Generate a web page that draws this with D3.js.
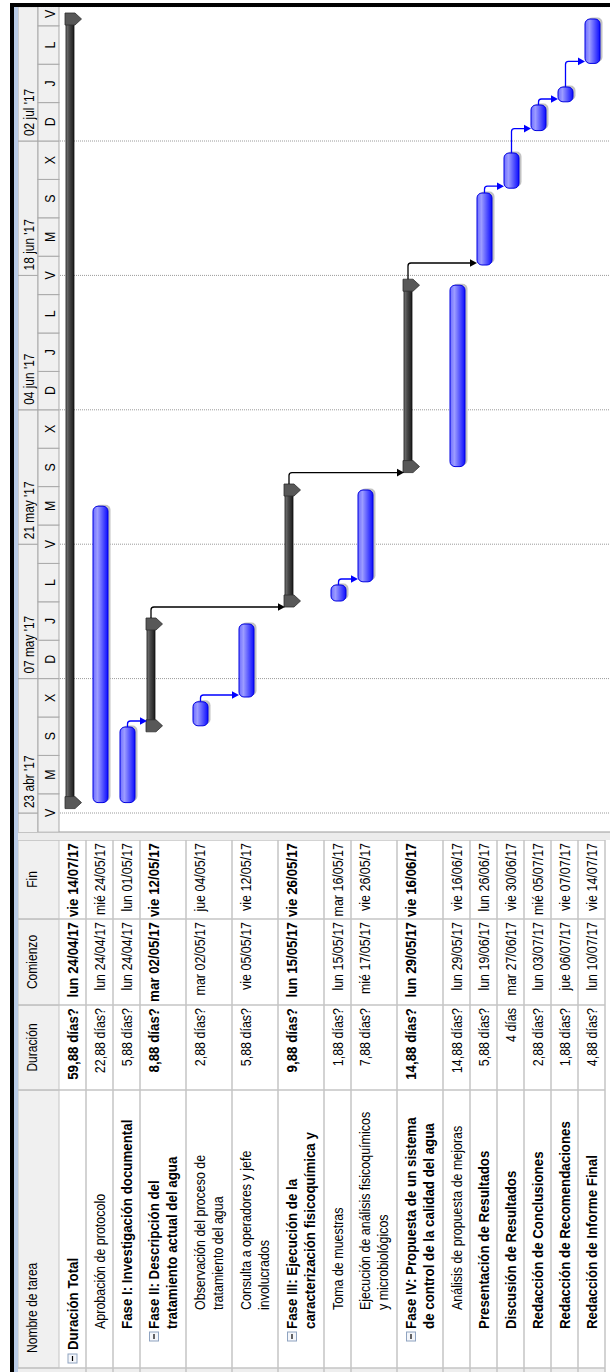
<!DOCTYPE html>
<html>
<head>
<meta charset="utf-8">
<script src="https://cdn.jsdelivr.net/npm/d3@7"></script>
<style>
  body { margin: 0; background: #fff; }
  svg { display: block; }
  text { font-family: "Liberation Sans", Arial, sans-serif; }
</style>
</head>
<body>
<div id="chart"></div>
<script>
// Task table (MS Project view)
const taskNames = [
  ["Duración Total"],
  ["Aprobación de protocolo"],
  ["Fase I: Investigación documental"],
  ["Fase II: Descripción del", "tratamiento actual del agua"],
  ["Observación del proceso de", "tratamiento del agua"],
  ["Consulta a operadores y jefe", "involucrados"],
  ["Fase III: Ejecución de la", "caracterización fisicoquímica y"],
  ["Toma de muestras"],
  ["Ejecución de análisis fisicoquímicos", "y microbiológicos"],
  ["Fase IV: Propuesta de un sistema", "de control de la calidad del agua"],
  ["Análisis de propuesta de mejoras"],
  ["Presentación de Resultados"],
  ["Discusión de Resultados"],
  ["Redacción de Conclusiones"],
  ["Redacción de Recomendaciones"],
  ["Redacción de Informe Final"]
];
const taskLevels = [1, 2, 2, 2, 3, 3, 2, 3, 3, 2, 3, 2, 2, 2, 2, 2];
const isSummary = [true, false, false, true, false, false, true, false, false, true, false, false, false, false, false, false];
const nameBold = [true, false, true, true, false, false, true, false, false, true, false, true, true, true, true, true];
const durations = ["59,88 días?", "22,88 días?", "5,88 días?", "8,88 días?", "2,88 días?", "5,88 días?", "9,88 días?",
  "1,88 días?", "7,88 días?", "14,88 días?", "14,88 días?", "5,88 días?", "4 días", "2,88 días?", "1,88 días?", "4,88 días?"];
const startLabels = ["lun 24/04/17", "lun 24/04/17", "lun 24/04/17", "mar 02/05/17", "mar 02/05/17", "vie 05/05/17",
  "lun 15/05/17", "lun 15/05/17", "mié 17/05/17", "lun 29/05/17", "lun 29/05/17", "lun 19/06/17", "mar 27/06/17",
  "lun 03/07/17", "jue 06/07/17", "lun 10/07/17"];
const finishLabels = ["vie 14/07/17", "mié 24/05/17", "lun 01/05/17", "vie 12/05/17", "jue 04/05/17", "vie 12/05/17",
  "vie 26/05/17", "mar 16/05/17", "vie 26/05/17", "vie 16/06/17", "vie 16/06/17", "lun 26/06/17", "vie 30/06/17",
  "mié 05/07/17", "vie 07/07/17", "vie 14/07/17"];

// Bar extents as drawn
const barStarts = ["2017-04-24 02:00", "2017-04-24 02:00", "2017-04-24 02:00", "2017-05-02 02:00", "2017-05-02 02:00",
  "2017-05-05 02:00", "2017-05-15 02:00", "2017-05-15 02:00", "2017-05-17 02:00", "2017-05-29 02:00", "2017-05-29 02:00",
  "2017-06-19 02:00", "2017-06-27 02:00", "2017-07-03 02:00", "2017-07-06 02:00", "2017-07-10 02:00"];
const barEnds = ["2017-07-14 17:00", "2017-05-24 23:00", "2017-05-01 23:00", "2017-05-12 16:30", "2017-05-04 14:00",
  "2017-05-12 16:30", "2017-05-26 15:30", "2017-05-16 18:00", "2017-05-26 15:30", "2017-06-16 23:30", "2017-06-16 23:30",
  "2017-06-26 14:00", "2017-06-30 18:00", "2017-07-05 18:00", "2017-07-07 15:00", "2017-07-14 17:00"];

// Finish-to-start links [predecessor, successor]
const links = [[2, 3], [4, 5], [3, 6], [7, 8], [6, 9], [9, 11], [11, 12], [12, 13], [13, 14], [14, 15]];

// Timescale
const scaleStart = "2017-04-23", scaleEnd = "2017-07-16";
const majorFrom = "2017-04-09", minorFrom = "2017-04-21";
const dayLetters = ["D", "L", "M", "X", "J", "V", "S"];
const shortMonths = ["ene", "feb", "mar", "abr", "may", "jun", "jul", "ago", "sep", "oct", "nov", "dic"];

// Layout is built in the original landscape orientation, then turned -90deg
const W = 1372, H = 610;
const ganttX0 = 540, ganttX1 = 1365;
const parseT = d3.timeParse("%Y-%m-%d %H:%M");
const parseD = d3.timeParse("%Y-%m-%d");

const svg = d3.select("#chart").append("svg")
  .attr("width", H).attr("height", W);
const g = svg.append("g").attr("transform", `translate(0,${W}) rotate(-90)`);

const defs = svg.append("defs");
const tg = defs.append("linearGradient").attr("id", "taskGrad").attr("x1", 0).attr("y1", 0).attr("x2", 0).attr("y2", 1);
tg.append("stop").attr("offset", 0).attr("stop-color", "#6e6eff");
tg.append("stop").attr("offset", 0.3).attr("stop-color", "#9c9cff");
tg.append("stop").attr("offset", 1).attr("stop-color", "#0c0cff");
const sg = defs.append("linearGradient").attr("id", "sumGrad").attr("x1", 0).attr("y1", 0).attr("x2", 0).attr("y2", 1);
sg.append("stop").attr("offset", 0).attr("stop-color", "#7a7a7a");
sg.append("stop").attr("offset", 0.4).attr("stop-color", "#4a4a4a");
sg.append("stop").attr("offset", 1).attr("stop-color", "#1c1c1c");
defs.append("clipPath").attr("id", "ganttClip").append("rect")
  .attr("x", ganttX0).attr("y", 0).attr("width", ganttX1 - ganttX0).attr("height", H);

function txt(parent, x, y, s, o = {}) {
  const size = o.size || 14.5, sx = o.sx || 0.86;
  return parent.append("text")
    .attr("transform", `translate(${x},${y}) scale(${sx},1)`)
    .attr("text-anchor", o.anchor || "start")
    .attr("font-size", size)
    .attr("font-weight", o.bold ? "bold" : "normal")
    .attr("fill", "#000")
    .text(s);
}

g.append("rect").attr("width", W).attr("height", H).attr("fill", "#fff");

// rows
const rowH = taskNames.map(n => n.length === 1 ? 27 : 46);
const rowTop = [];
let acc = 59;
rowH.forEach(h => { rowTop.push(acc); acc += h; });
const bodyBottom = acc;

// ---------- table ----------
const cols = [
  { x0: 4, x1: 282, title: "Nombre de tarea" },
  { x0: 282, x1: 367, title: "Duración" },
  { x0: 367, x1: 453, title: "Comienzo" },
  { x0: 453, x1: 532, title: "Fin" }
];
const lineCol = "#c4c4c4";

g.append("rect").attr("x", 0).attr("y", 18).attr("width", 4).attr("height", bodyBottom - 18).attr("fill", "#eeeeee");

g.selectAll(".hcell").data(cols).join("rect")
  .attr("x", d => d.x0).attr("y", 18).attr("width", d => d.x1 - d.x0).attr("height", 41)
  .attr("fill", "#f0f0f0").attr("stroke", lineCol);
cols.forEach((c, i) => {
  if (i === 0) txt(g, c.x0 + 15, 37, c.title, { size: 14 });
  else txt(g, (c.x0 + c.x1) / 2, 37, c.title, { size: 14, anchor: "middle" });
});

g.selectAll(".rowline").data(rowTop.map((t, i) => t + rowH[i])).join("line")
  .attr("x1", 0).attr("x2", 532).attr("y1", d => d).attr("y2", d => d)
  .attr("stroke", lineCol).attr("stroke-width", 1.5);
[4, 282, 367, 453, 532].forEach(x => {
  g.append("line").attr("x1", x).attr("x2", x).attr("y1", 18).attr("y2", bodyBottom)
    .attr("stroke", lineCol).attr("stroke-width", 1.5);
});

const indentX = { 1: 22, 2: 43, 3: 62 };
taskNames.forEach((lines, i) => {
  const t = rowTop[i];
  const base = lines.length === 1 ? t + 18.5 : t + 19;
  if (isSummary[i]) {
    const bx = taskLevels[i] === 1 ? 9 : 31;
    g.append("rect").attr("x", bx).attr("y", base - 9.5).attr("width", 9).attr("height", 9)
      .attr("fill", "#f4f6fa").attr("stroke", "#8fa3c0");
    g.append("line").attr("x1", bx + 2).attr("x2", bx + 7).attr("y1", base - 5).attr("y2", base - 5)
      .attr("stroke", "#000").attr("stroke-width", 1.2);
  }
  lines.forEach((s, k) => {
    txt(g, indentX[taskLevels[i]], base + k * 18, s, nameBold[i] ? { bold: true, size: 15.5, sx: 0.86 } : {});
  });
  const o = isSummary[i] ? { bold: true, size: 15.5, sx: 0.86, anchor: "end" } : { anchor: "end" };
  txt(g, 364, base, durations[i], o);
  txt(g, 450, base, startLabels[i], o);
  txt(g, 529, base, finishLabels[i], o);
});

// splitter between table and chart
g.append("rect").attr("x", 532).attr("y", 10).attr("width", 8).attr("height", H - 10).attr("fill", "#ececec");
g.append("line").attr("x1", 540).attr("x2", 540).attr("y1", 10).attr("y2", H).attr("stroke", "#9a9a9a");

// ---------- gantt ----------
const x = d3.scaleTime()
  .domain([parseD(scaleStart), parseD(scaleEnd)])
  .range([559, 559 + 9.6 * 84]);

const esLocale = d3.timeFormatLocale({
  dateTime: "%x, %X", date: "%d/%m/%Y", time: "%H:%M:%S", periods: ["AM", "PM"],
  days: ["domingo", "lunes", "martes", "miércoles", "jueves", "viernes", "sábado"],
  shortDays: ["dom", "lun", "mar", "mié", "jue", "vie", "sáb"],
  months: ["enero", "febrero", "marzo", "abril", "mayo", "junio", "julio", "agosto", "septiembre", "octubre", "noviembre", "diciembre"],
  shortMonths: shortMonths
});
const fmtMajor = esLocale.format("%d %b '%y");

const gc = g.append("g").attr("clip-path", "url(#ganttClip)");

const majors = d3.timeDay.range(parseD(majorFrom), d3.timeDay.offset(parseD(scaleEnd), 14), 14);
const minors = d3.timeDay.range(parseD(minorFrom), d3.timeDay.offset(parseD(scaleEnd), 4), 4);

gc.selectAll(".major").data(majors).join("rect")
  .attr("x", d => x(d)).attr("y", 18)
  .attr("width", d => x(d3.timeDay.offset(d, 14)) - x(d)).attr("height", 20)
  .attr("fill", "#f0f0f0").attr("stroke", "#a9a9a9");
majors.filter(d => x(d) >= ganttX0 && x(d) + 60 < ganttX1)
  .forEach(d => txt(gc, x(d) + 5, 34, fmtMajor(d), { size: 14, sx: 0.85 }));

gc.selectAll(".minor").data(minors).join("rect")
  .attr("x", d => x(d)).attr("y", 38)
  .attr("width", d => x(d3.timeDay.offset(d, 4)) - x(d)).attr("height", 21)
  .attr("fill", "#f0f0f0").attr("stroke", "#a9a9a9");
minors.filter(d => x(d) < ganttX1 - 6).forEach(d => {
  const cx = Math.min(Math.max(x(d3.timeHour.offset(d, 48)), ganttX0 + 7), ganttX1 - 7);
  txt(gc, cx, 54.5, dayLetters[d.getDay()], { size: 14.5, sx: 0.85, anchor: "middle" });
});

// dotted gridlines at the major tier
gc.selectAll(".grid").data(majors).join("line")
  .attr("x1", d => x(d)).attr("x2", d => x(d))
  .attr("y1", 60).attr("y2", H)
  .attr("stroke", "#9a9a9a").attr("stroke-dasharray", "1,1");

const bars = taskNames.map((n, i) => ({
  i, s: parseT(barStarts[i]), e: parseT(barEnds[i]), top: rowTop[i], summary: isSummary[i]
}));

// task bars
const tasks = bars.filter(b => !b.summary);
gc.selectAll(".shadow").data(tasks).join("rect")
  .attr("x", d => x(d.s) + 1.5).attr("y", d => d.top + 9.5)
  .attr("width", d => x(d.e) - x(d.s)).attr("height", 15)
  .attr("rx", 5).attr("fill", "#c2c2c2");
gc.selectAll(".task").data(tasks).join("rect")
  .attr("x", d => x(d.s)).attr("y", d => d.top + 7)
  .attr("width", d => x(d.e) - x(d.s)).attr("height", 15)
  .attr("rx", 5).attr("fill", "url(#taskGrad)").attr("stroke", "#0000e0").attr("stroke-width", 1);

// summary bars with end caps
const sums = bars.filter(b => b.summary);
gc.selectAll(".sum").data(sums).join("rect")
  .attr("x", d => x(d.s)).attr("y", d => d.top + 7)
  .attr("width", d => x(d.e) - x(d.s)).attr("height", 8)
  .attr("fill", "url(#sumGrad)").attr("stroke", "#111").attr("stroke-width", 0.8);
const cap = (cx, t) => `M${cx - 6},${t + 6}H${cx + 6}V${t + 16}L${cx},${t + 22.5}L${cx - 6},${t + 16}Z`;
sums.forEach(d => {
  [x(d.s), x(d.e)].forEach(cx => {
    gc.append("path").attr("d", cap(cx, d.top)).attr("fill", "#585858").attr("stroke", "#2e2e2e").attr("stroke-width", 0.8);
  });
});

// links
links.forEach(([p, q]) => {
  const a = bars[p], b = bars[q];
  const x0 = a.summary ? x(a.e) + 6 : x(a.e);
  const y0 = a.summary ? a.top + 11 : a.top + 14.5;
  const succX = b.summary ? x(b.s) - 6 : x(b.s) + 2;
  const vx = Math.max(x0 + 6, succX);
  const tip = b.top + 7;
  const col = a.summary ? "#000" : "#0000ff";
  const r = 3;
  const path = d3.path();
  path.moveTo(x0, y0);
  path.lineTo(vx - r, y0);
  path.quadraticCurveTo(vx, y0, vx, y0 + r);
  path.lineTo(vx, tip - 6);
  gc.append("path").attr("d", path.toString()).attr("fill", "none")
    .attr("stroke", col).attr("stroke-width", 1.3);
  gc.append("path").attr("d", `M${vx - 3.8},${tip - 7}H${vx + 3.8}L${vx},${tip}Z`).attr("fill", col);
});

// window borders
g.append("rect").attr("x", 0).attr("y", 10).attr("width", 1369).attr("height", 4).attr("fill", "#000");
g.append("rect").attr("x", 0).attr("y", 14).attr("width", 1365).attr("height", 4).attr("fill", "#b9cbe6");
g.append("rect").attr("x", 1365).attr("y", 10).attr("width", 4).attr("height", H - 10).attr("fill", "#000");
</script>
</body>
</html>
